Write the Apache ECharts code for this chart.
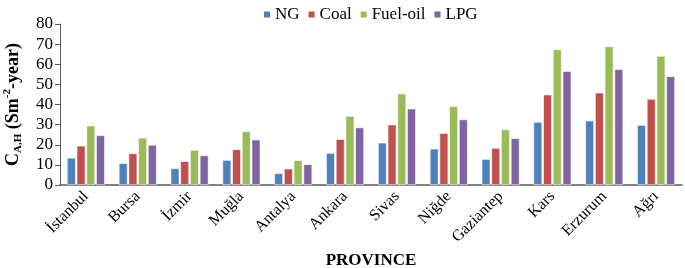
<!DOCTYPE html>
<html>
<head>
<meta charset="utf-8">
<script src="https://cdn.jsdelivr.net/npm/echarts@6/dist/echarts.min.js"></script>
<style>
  html, body { margin: 0; padding: 0; background: #fff; }
  #chart { width: 685px; height: 268px; }
</style>
</head>
<body>
<div id="chart"></div>
<script>
const provinces = ["İstanbul", "Bursa", "İzmir", "Muğla", "Antalya", "Ankara", "Sivas", "Niğde", "Gaziantep", "Kars", "Erzurum", "Ağrı"];
const ng = [13.5, 10.8, 8.3, 12.4, 5.8, 15.9, 21.0, 18.0, 12.9, 31.3, 32.0, 29.8];
const coal = [19.5, 15.7, 11.8, 17.7, 8.1, 22.8, 30.0, 25.8, 18.4, 44.9, 45.9, 42.7];
const fuelOil = [29.5, 23.5, 17.4, 26.7, 12.3, 34.3, 45.4, 39.1, 27.6, 67.4, 68.9, 64.1];
const lpg = [24.7, 19.9, 14.7, 22.5, 10.3, 28.6, 37.9, 32.6, 23.2, 56.6, 57.5, 54.0];
const yTicks = [0, 10, 20, 30, 40, 50, 60, 70, 80];

const SERIF = "'Liberation Serif', 'DejaVu Serif', serif";
const AXIS = "#595959";

const chart = echarts.init(document.getElementById("chart"));

function bar(name, data, color) {
  return {
    name,
    type: "bar",
    data,
    barGap: "12%",
    barCategoryGap: "27%",
    itemStyle: { color, borderColor: "#fff", borderWidth: 0.6 },
  };
}

chart.setOption({
  animation: false,
  textStyle: { fontFamily: SERIF },
  legend: {
    top: 1,
    left: 257,
    itemWidth: 8,
    itemHeight: 8,
    itemGap: 7,
    icon: "rect",
    textStyle: { fontFamily: SERIF, fontSize: 17, color: "#000", padding: [0, 0, 0, -1] },
    data: ["NG", "Coal", "Fuel-oil", "LPG"],
  },
  grid: { left: 60, right: 3, top: 24, bottom: 83, containLabel: false, outerBoundsMode: "none" },
  xAxis: {
    type: "category",
    data: provinces,
    name: "PROVINCE",
    nameLocation: "middle",
    nameGap: 67,
    nameTextStyle: { fontFamily: SERIF, fontSize: 17, fontWeight: "bold", color: "#000" },
    axisLine: { lineStyle: { color: AXIS, width: 1.5 } },
    axisTick: { show: false },
    axisLabel: { rotate: 45, fontFamily: SERIF, fontSize: 16, color: "#000", margin: 9, interval: 0 },
  },
  yAxis: {
    type: "value",
    min: yTicks[0],
    max: yTicks[yTicks.length - 1],
    interval: 10,
    name: "{b|C}{sub|A,H}{b| (Sm}{sup|-2}{b|-year)}",
    nameLocation: "middle",
    nameRotate: 90,
    nameGap: 36,
    nameTextStyle: {
      rich: {
        b: { fontFamily: SERIF, fontSize: 18, fontWeight: "bold", color: "#000", lineHeight: 22 },
        sub: { fontFamily: SERIF, fontSize: 11, fontWeight: "bold", color: "#000", verticalAlign: "bottom", lineHeight: 14, padding: [7, 0, 0, 0] },
        sup: { fontFamily: SERIF, fontSize: 11, fontWeight: "bold", color: "#000", verticalAlign: "top", lineHeight: 14, padding: [0, 0, 7, 0] },
      },
    },
    axisLine: { show: true, lineStyle: { color: AXIS, width: 1 } },
    axisTick: { show: true, length: 5, lineStyle: { color: AXIS } },
    splitLine: { show: false },
    axisLabel: { fontFamily: SERIF, fontSize: 17, color: "#000", margin: 7 },
  },
  series: [
    bar("NG", ng, "#4F81BD"),
    bar("Coal", coal, "#C0504D"),
    bar("Fuel-oil", fuelOil, "#9BBB59"),
    bar("LPG", lpg, "#8064A2"),
  ],
});
</script>
</body>
</html>
